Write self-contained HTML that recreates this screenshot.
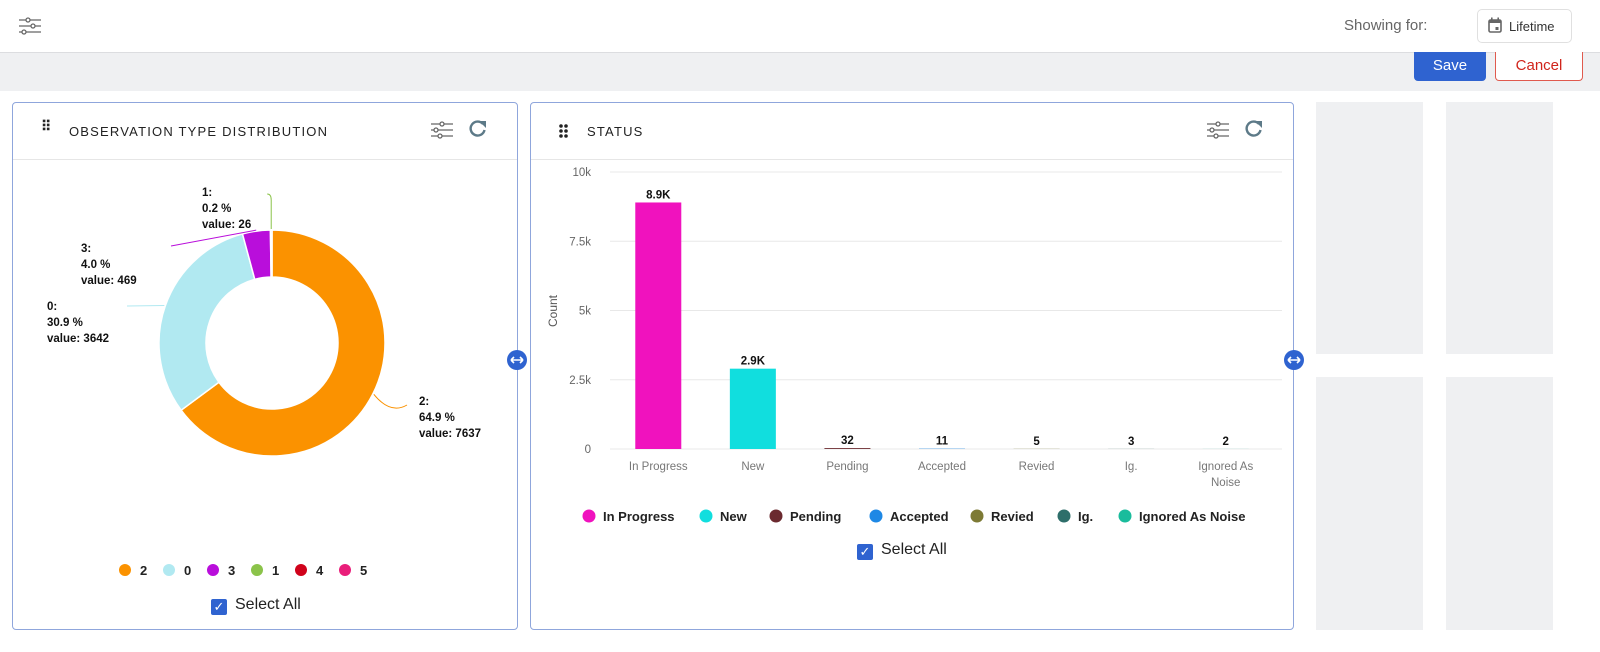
<!DOCTYPE html>
<html><head><meta charset="utf-8">
<style>
*{box-sizing:border-box;margin:0;padding:0}
body{width:1600px;height:652px;background:#fff;font-family:"Liberation Sans",sans-serif;position:relative;overflow:hidden;color:#222}
.abs{position:absolute}
.panel{position:absolute;border:1px solid #8fa6dc;border-radius:4px;background:#fff}
.ph{position:absolute;background:#eff0f2}
</style></head><body>
<div class="abs" style="left:0;top:0;width:1600px;height:53px;border-bottom:1px solid #dcdde0;background:#fff"></div>
<svg class="abs" style="left:18px;top:16px" width="24" height="20" viewBox="0 0 24 20" fill="none" stroke="#666" stroke-width="1.3"><line x1="1" y1="4" x2="23" y2="4"/><line x1="1" y1="10" x2="23" y2="10"/><line x1="1" y1="16" x2="23" y2="16"/><circle cx="10" cy="4" r="2" fill="#fff"/><circle cx="15" cy="10" r="2" fill="#fff"/><circle cx="6" cy="16" r="2" fill="#fff"/></svg>
<div class="abs" style="left:1344px;top:17px;font-size:15px;color:#666">Showing for:</div>
<div class="abs" style="left:1477px;top:9px;width:95px;height:34px;border:1px solid #e0e0e0;border-radius:5px;font-size:13px;color:#333;padding:9px 0 0 31px">Lifetime</div>
<svg class="abs" style="left:1488px;top:17px" width="14" height="16" viewBox="0 0 14 16"><rect x="1" y="3" width="12" height="12" rx="1.5" fill="none" stroke="#666" stroke-width="1.6"/><rect x="1" y="3" width="12" height="3" fill="#666"/><rect x="3" y="0.5" width="1.6" height="3" fill="#666"/><rect x="9.4" y="0.5" width="1.6" height="3" fill="#666"/><rect x="7.5" y="10" width="3" height="3" fill="#666"/></svg>
<div class="abs" style="left:0;top:53px;width:1600px;height:38px;background:#eff0f2"></div>
<div class="abs" style="left:1414px;top:52px;width:72px;height:29px;background:#2f63d0;border-radius:0 0 4px 4px;color:#fff;font-size:15px;text-align:center;line-height:27px">Save</div>
<div class="abs" style="left:1495px;top:52px;width:88px;height:29px;border:1px solid #e05a4e;border-top:none;border-radius:0 0 4px 4px;color:#d0241b;font-size:15px;text-align:center;line-height:27px;background:#fff">Cancel</div>

<div class="ph" style="left:1316px;top:102px;width:107px;height:252px"></div>
<div class="ph" style="left:1446px;top:102px;width:107px;height:252px"></div>
<div class="ph" style="left:1316px;top:377px;width:107px;height:253px"></div>
<div class="ph" style="left:1446px;top:377px;width:107px;height:253px"></div>

<!-- Panel 1 -->
<div class="panel" style="left:12px;top:102px;width:506px;height:528px">
  <div class="abs" style="left:0;top:56px;width:504px;height:1px;background:#e6e6e6"></div>
  <div class="abs" style="left:28px;top:21px;font-size:14px;line-height:5px;letter-spacing:-1px;font-weight:bold">⠿</div>
  <div class="abs" style="left:56px;top:21px;font-size:13px;letter-spacing:1.2px;color:#222">OBSERVATION TYPE DISTRIBUTION</div>
</div>
<!-- Panel 2 -->
<div class="panel" style="left:530px;top:102px;width:764px;height:528px">
  <div class="abs" style="left:0;top:56px;width:762px;height:1px;background:#e6e6e6"></div>
  <div class="abs" style="left:56px;top:21px;font-size:13px;letter-spacing:1.2px;color:#222">STATUS</div>
</div>

<svg class="abs" style="left:0;top:0" width="1600" height="652">
  <g id="icons"></g>
  <g id="donut"></g>
  <g id="bars"></g>
</svg>

<div class="abs" style="left:211px;top:596px;font-size:16px;color:#222"><span style="display:inline-block;width:16px;height:16px;background:#2f63d0;border-radius:2px;color:#fff;font-size:13px;text-align:center;line-height:16px;vertical-align:-2px;margin-right:8px">✓</span>Select All</div>
<div class="abs" style="left:857px;top:541px;font-size:16px;color:#222"><span style="display:inline-block;width:16px;height:16px;background:#2f63d0;border-radius:2px;color:#fff;font-size:13px;text-align:center;line-height:16px;vertical-align:-2px;margin-right:8px">✓</span>Select All</div>

<script>
const NS="http://www.w3.org/2000/svg";
function mk(p,t,a,txt){const e=document.createElementNS(NS,t);for(const k in a)e.setAttribute(k,a[k]);if(txt!==undefined)e.textContent=txt;p.appendChild(e);return e;}

// ---- donut data ----
const pieLabels=["2","0","3","1"];
const pieValues=[7637,3642,469,26];
const pieColors=["#fb9200","#b1e9f1","#b90edb","#8bc34a"];
const legendLabels=["2","0","3","1","4","5"];
const legendColors=["#fb9200","#b1e9f1","#b90edb","#8bc34a","#d0021b","#e91e7a"];

// ---- bar data ----
const barCats=["In Progress","New","Pending","Accepted","Revied","Ig.","Ignored As Noise"];
const barValues=[8900,2900,32,11,5,3,2];
const barLabels=["8.9K","2.9K","32","11","5","3","2"];
const barColors=["#f012be","#11dede","#6b2a2f","#1e88e5","#7d7a35","#2e6e6a","#1abc9c"];
const yTicks=[0,2500,5000,7500,10000];
const yTickLabels=["0","2.5k","5k","7.5k","10k"];

const ic=document.getElementById('icons');
function sliders(x,y,name){const g=mk(ic,'g',{transform:`translate(${x},${y})`,fill:'none',stroke:'#666','stroke-width':1.3});

[[3,11],[9,5],[15,9]].forEach(([yy,cx])=>{mk(g,'line',{x1:0,y1:yy,x2:22,y2:yy});mk(g,'circle',{cx:cx,cy:yy,r:2,fill:'#fff'});});}
function refresh(x,y,name){const g=mk(ic,'g',{transform:`translate(${x},${y})`});

mk(g,'path',{d:'M15 4 A7 7 0 1 0 16.5 10',fill:'none',stroke:'#5d7a88','stroke-width':2.4});
mk(g,'path',{d:'M11 1 L18 1 L18 8 Z',fill:'#5d7a88'});}
sliders(431,121,'donut-settings-icon');refresh(468,120,'donut-refresh-icon');
sliders(1207,121,'status-settings-icon');refresh(1244,120,'status-refresh-icon');
// drag handle for status
[0,1,2].forEach(r=>[0,1].forEach(c=>{const d=mk(ic,'circle',{cx:561+c*5,cy:126+r*5,r:1.8,fill:'#222'});}));
// resize handles
[[517,360],[1294,360]].forEach(([x,y])=>{const g=mk(ic,'g',{});
mk(g,'circle',{cx:x,cy:y,r:10,fill:'#2f63d0'});mk(g,'path',{d:`M${x-6} ${y} L${x+6} ${y} M${x-6} ${y} l3 -3 M${x-6} ${y} l3 3 M${x+6} ${y} l-3 -3 M${x+6} ${y} l-3 3`,stroke:'#fff','stroke-width':1.6,fill:'none'});});

// ---- donut ----
const dg=document.getElementById('donut');
const cx=272,cy=343,R=113,r0=66;
const tot=pieValues.reduce((a,b)=>a+b,0);
let a0=-Math.PI/2;
const pctPos=[[419,405],[47,310],[81,252],[202,196]];
pieValues.forEach((v,i)=>{
  const a1=a0+v/tot*2*Math.PI, big=(a1-a0)>Math.PI?1:0;
  const p=(a,rr)=>[cx+rr*Math.cos(a),cy+rr*Math.sin(a)];
  const [x1,y1]=p(a0,R),[x2,y2]=p(a1,R),[x3,y3]=p(a1,r0),[x4,y4]=p(a0,r0);
  const s=mk(dg,'path',{d:`M${x1} ${y1} A${R} ${R} 0 ${big} 1 ${x2} ${y2} L${x3} ${y3} A${r0} ${r0} 0 ${big} 0 ${x4} ${y4} Z`,fill:pieColors[i],stroke:'#fff','stroke-width':1.5});
  
  
  // leader line
  const am=(a0+a1)/2;const [lx,ly]=p(am,R+1);
  const [tx,ty]=pctPos[i];
  const ex=i==0?tx-12:(i==3?lx-2:tx+(i==1?80:90)), ey=i==0?ty:(i==3?ty:ty+ (i==1?-4:-6));
  const ln=mk(dg,'path',{d:i==3?`M${lx} ${ly} L${lx} ${cy-R-30} q0 -6 -4 -6`:`M${lx} ${ly} Q${(lx+ex)/2} ${(ly+ey)/2+ (i==0?15:0)} ${ex} ${ey}`,fill:'none',stroke:pieColors[i],'stroke-width':1});
  
  
  const pct=(v/tot*100).toFixed(1);
  const t=mk(dg,'text',{x:tx,y:ty,'font-size':11.5,'font-weight':'bold',fill:'#111'});
  
  
  [pieLabels[i]+':',pct+' %','value: '+v].forEach((s2,k)=>mk(t,'tspan',{x:tx,dy:k?16:0},s2));
  a0=a1;
});
legendLabels.forEach((l,i)=>{const x=125+i*44;const g=mk(dg,'g',{});


mk(g,'circle',{cx:x,cy:570,r:6,fill:legendColors[i]});mk(g,'text',{x:x+15,y:575,'font-size':13,'font-weight':'bold',fill:'#222'},l);});

// ---- bars ----
const bg=document.getElementById('bars');
const x0=620,x1=1282,yb=449,yt=172,yMax=10000;
const ys=v=>yb-(v/yMax)*(yb-yt);
const bw=(x1-x0)/barCats.length;
const xs=i=>x0+bw*(i+0.5)-9;
yTicks.forEach((t,i)=>{mk(bg,'line',{x1:x0-10,x2:x1,y1:ys(t),y2:ys(t),stroke:'#e8e8e8','stroke-width':1});
const tl=mk(bg,'text',{x:591,y:ys(t)+4,'text-anchor':'end','font-size':11.5,fill:'#666'},yTickLabels[i]);
});
const yt2=mk(bg,'text',{x:0,y:0,transform:'translate(557,311) rotate(-90)','text-anchor':'middle','font-size':12,fill:'#555'},'Count');

barValues.forEach((v,i)=>{const cxb=xs(i);
const b=mk(bg,'rect',{x:cxb-23,y:ys(v),width:46,height:yb-ys(v),fill:barColors[i]});


const vl=mk(bg,'text',{x:cxb,y:ys(v)-4,'text-anchor':'middle','font-size':11.5,'font-weight':'bold',fill:'#111'},barLabels[i]);

const words=barCats[i]==='Ignored As Noise'?['Ignored As','Noise']:[barCats[i]];
words.forEach((w,k)=>{const cl=mk(bg,'text',{x:cxb,y:470+k*16,'text-anchor':'middle','font-size':11.5,fill:'#777'},w);
});
});
const lx=[589,706,776,876,977,1064,1125];
barCats.forEach((c,i)=>{const g=mk(bg,'g',{});


mk(g,'circle',{cx:lx[i],cy:516,r:6.5,fill:barColors[i]});mk(g,'text',{x:lx[i]+14,y:521,'font-size':13,'font-weight':'bold',fill:'#222'},c);});
</script>
</body></html>
